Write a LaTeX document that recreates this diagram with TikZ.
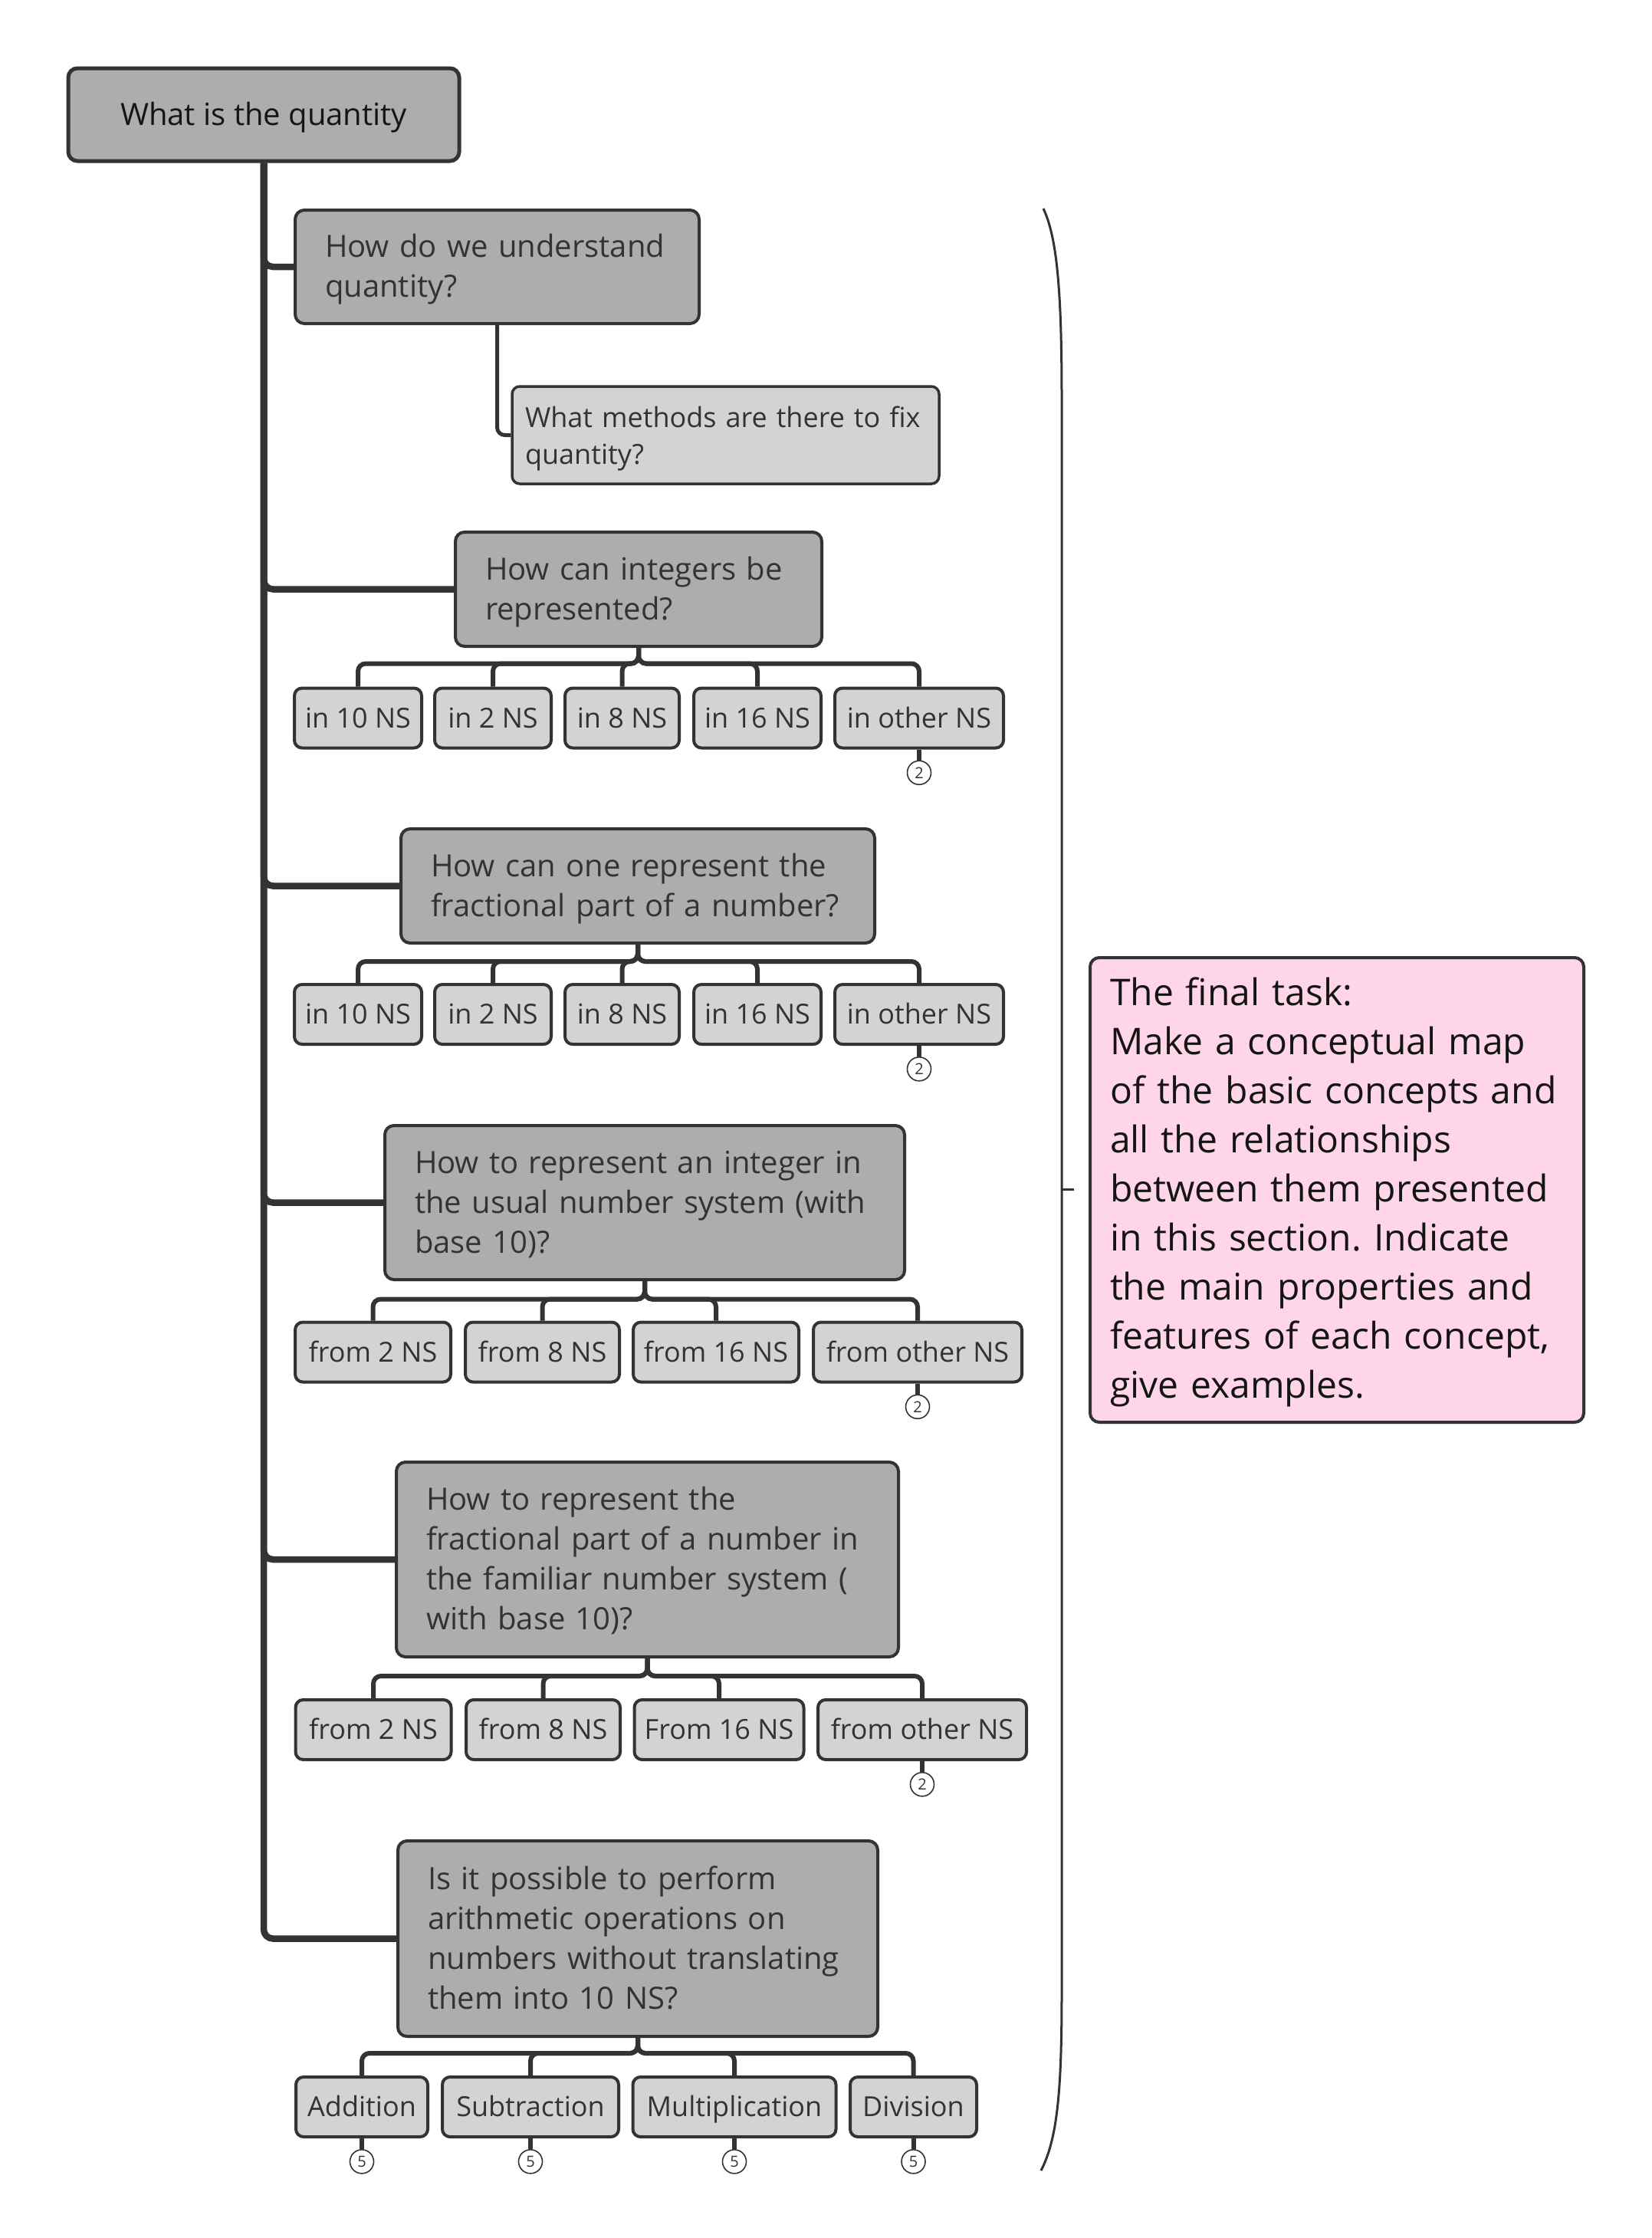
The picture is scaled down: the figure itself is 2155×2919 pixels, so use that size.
\documentclass[tikz,border=0pt]{standalone}
\usepackage{fontspec}
\setmainfont{Open Sans}
\frenchspacing
\definecolor{cline}{HTML}{333333}
\definecolor{cdark}{HTML}{ADADAD}
\definecolor{clight}{HTML}{D3D3D3}
\definecolor{cpink}{HTML}{FFD5E8}
\definecolor{ctxt}{HTML}{333333}
\definecolor{ctxtb}{HTML}{151515}
\pgfdeclarelayer{background}
\pgfsetlayers{background,main}
\tikzset{
  rootbox/.style={draw=cline, fill=cdark, line width=2.5pt, rounded corners=6pt, minimum width=255pt, minimum height=60.5pt, inner sep=0pt, text height=18.5pt, text depth=4.7pt, text=ctxtb, font=\fontsize{20pt}{26pt}\selectfont},
  qbox/.style={draw=cline, fill=cdark, line width=2pt, rounded corners=6pt, inner xsep=19.5pt, inner ysep=0pt, align=left, text=ctxt, font=\fontsize{20pt}{26pt}\selectfont,
    execute at begin node={\rule{0pt}{18.5pt}}, execute at end node={\rule[-5pt]{0pt}{5pt}}},
  subq/.style={draw=cline, fill=clight, line width=1.75pt, rounded corners=5pt, inner xsep=8.5pt, inner ysep=0pt, align=left, text=ctxt, font=\fontsize{18pt}{24pt}\selectfont,
    execute at begin node={\rule{0pt}{18.3pt}}, execute at end node={\rule[-4.3pt]{0pt}{4.3pt}}},
  leaf/.style={draw=cline, fill=clight, line width=2pt, rounded corners=5pt, minimum height=39pt, inner sep=0pt, text height=16pt, text depth=3.15pt, text=ctxt, font=\fontsize{18pt}{22pt}\selectfont},
  badge/.style={circle, draw=cline, fill=white, line width=0.8pt, minimum size=15.5pt, inner sep=0pt, anchor=north, text=ctxt, font=\fontsize{10pt}{12pt}\selectfont},
  trunk/.style={draw=cline, line width=4.25pt, rounded corners=6pt},
  bus/.style={draw=cline, line width=3pt, rounded corners=5pt},
  stub/.style={draw=cline, line width=3pt},
  thinlink/.style={draw=cline, line width=2.5pt, rounded corners=5pt},
  bracketline/.style={draw=cline, line width=1.5pt},
  taskbox/.style={draw=cline, fill=cpink, line width=2pt, rounded corners=6pt, inner xsep=13pt, inner ysep=0pt, align=left, text width=296pt, minimum height=303pt, text=ctxtb, font=\fontsize{24pt}{32pt}\selectfont,
    execute at begin node={\rule{0pt}{21.5pt}}, execute at end node={\rule[-5.9pt]{0pt}{5.9pt}}}
}
\begin{document}
\begin{tikzpicture}[x=0.5pt,y=-0.5pt]
\useasboundingbox (0,0) rectangle (2155,2919);

% root and questions
\node[rootbox] (root) at (344,149.5) {What is the quantity};
\node[qbox, text width=224.5pt, minimum height=74pt] (q1) at (648.5,348) {How do we understand\\quantity?};
\node[subq, text width=261.5pt, minimum height=63.5pt] (q1a) at (946.5,567.5) {What methods are there to fix\\quantity?};
\node[qbox, text width=200pt, minimum height=74.5pt] (q2) at (833,768.5) {How can integers be\\represented?};
\node[qbox, text width=270pt, minimum height=74.5pt] (q3) at (832,1155.5) {How can one represent the\\fractional part of a number?};
\node[qbox, text width=300pt, minimum height=100.5pt] (q4) at (841,1568.5) {How to represent an integer in\\the usual number system (with\\base 10)?};
\node[qbox, text width=288.5pt, minimum height=127pt] (q5) at (844.5,2034) {How to represent the\\fractional part of a number in\\the familiar number system (\\with base 10)?};
\node[qbox, text width=274pt, minimum height=127.5pt] (q6) at (832,2528.5) {Is it possible to perform\\arithmetic operations on\\numbers without translating\\them into 10 NS?};

% row 1
\node[leaf, minimum width=83pt] (a1) at (467,936.5) {in 10 NS};
\node[leaf, minimum width=76pt] (a2) at (643,936.5) {in 2 NS};
\node[leaf, minimum width=74.5pt] (a3) at (811.5,936.5) {in 8 NS};
\node[leaf, minimum width=83pt] (a4) at (988,936.5) {in 16 NS};
\node[leaf, minimum width=110pt] (a5) at (1199,936.5) {in other NS};
% row 2
\node[leaf, minimum width=83pt] (b1) at (467,1323) {in 10 NS};
\node[leaf, minimum width=76pt] (b2) at (643,1323) {in 2 NS};
\node[leaf, minimum width=74.5pt] (b3) at (811.5,1323) {in 8 NS};
\node[leaf, minimum width=83pt] (b4) at (988,1323) {in 16 NS};
\node[leaf, minimum width=110pt] (b5) at (1199,1323) {in other NS};
% row 3
\node[leaf, minimum width=101.5pt] (c1) at (486.5,1763.5) {from 2 NS};
\node[leaf, minimum width=100.5pt] (c2) at (707.5,1763.5) {from 8 NS};
\node[leaf, minimum width=108pt] (c3) at (934,1763.5) {from 16 NS};
\node[leaf, minimum width=136pt] (c4) at (1197,1763.5) {from other NS};
% row 4
\node[leaf, minimum width=101.5pt] (d1) at (487,2256) {from 2 NS};
\node[leaf, minimum width=100.5pt] (d2) at (708.5,2256) {from 8 NS};
\node[leaf, minimum width=110.5pt] (d3) at (938,2256) {From 16 NS};
\node[leaf, minimum width=136pt] (d4) at (1203,2256) {from other NS};
% row 5
\node[leaf, minimum width=86pt] (e1) at (472,2748) {Addition};
\node[leaf, minimum width=115pt] (e2) at (692,2748) {Subtraction};
\node[leaf, minimum width=132.5pt] (e3) at (958,2748) {Multiplication};
\node[leaf, minimum width=82.5pt] (e4) at (1191.5,2748) {Division};

% badges
\node[badge] (ba5) at ([yshift=-7pt]a5.south) {2};
\node[badge] (bb5) at ([yshift=-7pt]b5.south) {2};
\node[badge] (bc4) at ([yshift=-7pt]c4.south) {2};
\node[badge] (bd4) at ([yshift=-7pt]d4.south) {2};
\node[badge] (be1) at ([yshift=-7pt]e1.south) {5};
\node[badge] (be2) at ([yshift=-7pt]e2.south) {5};
\node[badge] (be3) at ([yshift=-7pt]e3.south) {5};
\node[badge] (be4) at ([yshift=-7pt]e4.south) {5};

% final task
\node[taskbox] (task) at (1744,1552) {The final task:\\Make a conceptual map\\of the basic concepts and\\all the relationships\\between them presented\\in this section. Indicate\\the main properties and\\features of each concept,\\give examples.};

\begin{pgfonlayer}{background}
  \foreach \q in {q1,q2,q3,q4,q5,q6} \draw[trunk] (root.south) |- (\q.west);
  \draw[thinlink] (q1.south) |- (q1a.west);
  \foreach \c in {a1,a2,a3,a4,a5} \draw[bus] (q2.south) |- ([yshift=15pt]\c.north) -- (\c.north);
  \foreach \c in {b1,b2,b3,b4,b5} \draw[bus] (q3.south) |- ([yshift=14pt]\c.north) -- (\c.north);
  \foreach \c in {c1,c2,c3,c4} \draw[bus] (q4.south) |- ([yshift=14pt]\c.north) -- (\c.north);
  \foreach \c in {d1,d2,d3,d4} \draw[bus] (q5.south) |- ([yshift=14.5pt]\c.north) -- (\c.north);
  \foreach \c in {e1,e2,e3,e4} \draw[bus] (q6.south) |- ([yshift=14.5pt]\c.north) -- (\c.north);
  \draw[stub] (a5.south) -- (ba5.north);
  \draw[stub] (b5.south) -- (bb5.north);
  \draw[stub] (c4.south) -- (bc4.north);
  \draw[stub] (d4.south) -- (bd4.north);
  \draw[stub] (e1.south) -- (be1.north);
  \draw[stub] (e2.south) -- (be2.north);
  \draw[stub] (e3.south) -- (be3.north);
  \draw[stub] (e4.south) -- (be4.north);
\end{pgfonlayer}

% bracket
\draw[bracketline] (1361,272) .. controls (1379,310) and (1385,380) .. (1385,520) -- (1385,2600) .. controls (1385,2730) and (1379,2790) .. (1358,2831);
\draw[bracketline] (1385,1551) -- (1401,1551);
\end{tikzpicture}
\end{document}
